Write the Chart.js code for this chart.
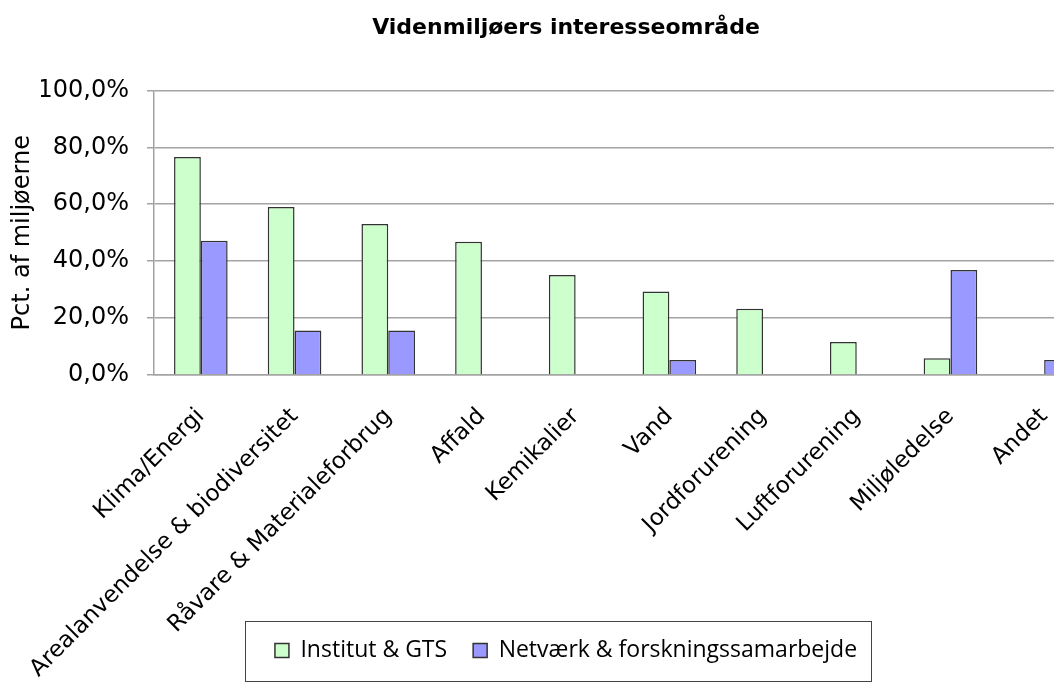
<!DOCTYPE html>
<html>
<head>
<meta charset="utf-8">
<script src="https://cdn.jsdelivr.net/npm/chart.js@4.4.0/dist/chart.umd.min.js"></script>
<style>
  html, body { margin: 0; padding: 0; overflow: hidden; background: #fff; }
  #wrap { width: 1110px; height: 690px; position: relative; }
</style>
</head>
<body>
<div id="wrap"><canvas id="chart"></canvas></div>
<script>
const categories = ['Klima/Energi', 'Arealanvendelse & biodiversitet', 'Råvare & Materialeforbrug', 'Affald',
  'Kemikalier', 'Vand', 'Jordforurening', 'Luftforurening', 'Miljøledelse', 'Andet'];
const institutValues = [76.6, 59.0, 53.1, 46.8, 35.1, 29.3, 23.3, 11.6, 5.9, 0];
const netvaerkValues = [47.2, 15.6, 15.6, 0, 0, 5.3, 0, 0, 36.9, 5.3];
const seriesNames = ['Institut & GTS', 'Netværk & forskningssamarbejde'];
const yTicks = [0, 20, 40, 60, 80, 100];

const gridGray = '#a3a3a3';

// frame round the legend, like the spreadsheet original
const legendFrame = {
  id: 'legendFrame',
  afterLayout(chart) {
    // let the long rotated labels run down past the legend instead of being clipped
    chart.scales.x.bottom = chart.height;
  },
  afterDraw(chart) {
    const boxes = chart.legend.legendHitBoxes;
    if (!boxes || !boxes.length) return;
    const left = Math.min(...boxes.map(b => b.left)) - 30;
    const right = Math.max(...boxes.map(b => b.left + b.width)) + 14;
    const mid = boxes[0].top + boxes[0].height / 2;
    const ctx = chart.ctx;
    ctx.save();
    ctx.strokeStyle = '#444';
    ctx.lineWidth = 1;
    ctx.strokeRect(Math.round(left) + 0.5, Math.round(mid - 30) + 0.5, Math.round(right - left), 60);
    ctx.restore();
  }
};

new Chart(document.getElementById('chart'), {
  type: 'bar',
  data: {
    labels: categories,
    datasets: [
      {
        label: seriesNames[0],
        data: institutValues,
        backgroundColor: '#ccffcc',
        borderColor: '#333',
        borderWidth: 1.5
      },
      {
        label: seriesNames[1],
        data: netvaerkValues,
        backgroundColor: '#9999ff',
        borderColor: '#333',
        borderWidth: 1.5
      }
    ]
  },
  options: {
    responsive: true,
    maintainAspectRatio: false,
    animation: false,
    categoryPercentage: 0.572,
    barPercentage: 1.0,
    layout: { padding: { left: 41, right: 19, top: 0, bottom: 18 } },
    plugins: {
      title: {
        display: true,
        text: 'Videnmiljøers interesseområde',
        color: '#000',
        font: { family: 'DejaVu Sans', size: 22, weight: 'bold' },
        padding: { top: 15, bottom: 49 }
      },
      legend: {
        position: 'bottom',
        labels: {
          color: '#000',
          font: { family: 'Open Sans', size: 23 },
          boxWidth: 14,
          boxHeight: 14,
          padding: 26
        }
      },
      tooltip: { enabled: false }
    },
    scales: {
      x: {
        grid: { display: false, drawTicks: false },
        border: { display: true, color: gridGray, width: 1.5 },
        ticks: {
          color: '#000',
          font: { family: 'DejaVu Sans', size: 23 },
          minRotation: 45,
          maxRotation: 45,
          padding: 28,
          autoSkip: false
        },
        afterFit(scale) { scale.height = 238; }
      },
      y: {
        min: 0,
        max: 100,
        afterBuildTicks(scale) { scale.ticks = yTicks.map(v => ({ value: v })); },
        grid: { color: gridGray, lineWidth: 1.5, tickLength: 7 },
        border: { display: true, color: gridGray, width: 1.5 },
        ticks: {
          color: '#000',
          font: { family: 'DejaVu Sans', size: 24 },
          padding: 18,
          callback: v => v.toFixed(1).replace('.', ',') + '%'
        },
        title: {
          display: true,
          text: 'Pct. af miljøerne',
          color: '#000',
          font: { family: 'DejaVu Sans', size: 24 },
          padding: { top: -33, bottom: 0 }
        },
        afterFit(scale) { scale.width = 113; }
      }
    }
  },
  plugins: [legendFrame]
});
</script>
</body>
</html>
